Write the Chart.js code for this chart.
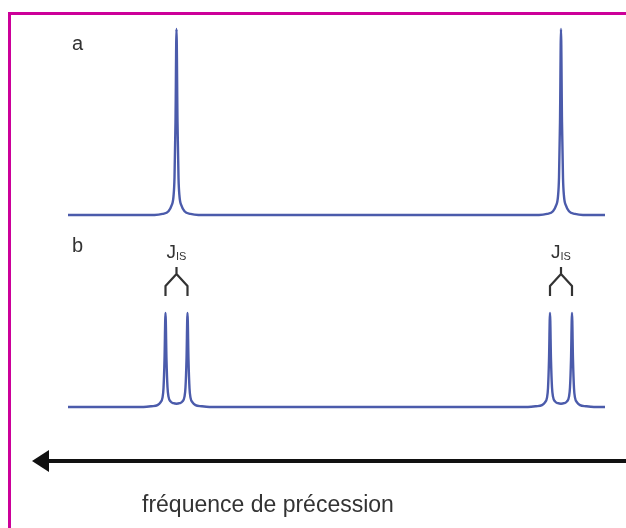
<!DOCTYPE html>
<html>
<head>
<meta charset="utf-8">
<script src="https://cdn.jsdelivr.net/npm/chart.js@4.4.0/dist/chart.umd.min.js"></script>
<style>
  html, body { margin: 0; padding: 0; background: #fff; }
  #wrap { position: relative; width: 626px; height: 528px; overflow: hidden; }
  #frame { position: absolute; left: 8px; top: 12px; width: 640px; height: 540px;
           border-left: 3px solid #cc0099; border-top: 3px solid #cc0099; }
  canvas { position: absolute; left: 0; top: 0; }
  .lbl { position: absolute; font-family: 'Liberation Sans', Arial, sans-serif; color: #333; }
</style>
</head>
<body>
<div id="wrap">
  <div id="frame"></div>
  <canvas id="specA" width="626" height="528"></canvas>
  <canvas id="specB" width="626" height="528"></canvas>
  <div class="lbl" style="left:72px; top:32px; font-size:20px;">a</div>
  <div class="lbl" style="left:72px; top:234px; font-size:20px;">b</div>
  <div class="lbl" style="left:142px; top:491px; font-size:23px;">fréquence de précession</div>
</div>
<script>
// frequency axis (arbitrary units)
const freqMin = 0;
const freqMax = 537;

// line positions
const lineCenters = [108.5, 493];
const singletHeights = [1, 1];
const doubletHeights = [0.5, 0.5];
const couplingJ = 22;

// line shape (offset, relative height)
const singletOffsets = [-22, -14, -8, -5, -3, -2, -1, 0, 1, 2, 3, 5, 8, 14, 22];
const singletShape = [0, 0.006, 0.02, 0.05, 0.1, 0.2, 0.5, 1, 0.5, 0.2, 0.1, 0.05, 0.02, 0.006, 0];

// doublet shape, offsets from the doublet centre
const doubletOffsets = [-33, -25, -19, -16, -14, -13, -12, -11, -10, -9, -8, -6, -3, 0,
                        3, 6, 8, 9, 10, 11, 12, 13, 14, 16, 19, 25, 33];
const doubletShape = [0, 0.008, 0.02, 0.05, 0.1, 0.2, 0.5, 1, 0.5, 0.21, 0.11, 0.06, 0.04, 0.035,
                      0.04, 0.06, 0.11, 0.21, 0.5, 1, 0.5, 0.2, 0.1, 0.05, 0.02, 0.008, 0];

function buildSpectrum(offsets, shape, heights) {
  const pts = [{ x: freqMin, y: 0 }];
  lineCenters.forEach((c, i) => {
    offsets.forEach((o, k) => pts.push({ x: c + o, y: shape[k] * heights[i] }));
  });
  pts.push({ x: freqMax, y: 0 });
  return pts;
}

const lineColor = '#4b5bab';

function makeChart(id, data, yMax, padding, extraPlugins) {
  return new Chart(document.getElementById(id), {
    type: 'line',
    data: {
      datasets: [{
        data: data,
        borderColor: lineColor,
        borderWidth: 2.4,
        pointRadius: 0,
        cubicInterpolationMode: 'monotone',
        clip: false
      }]
    },
    options: {
      responsive: false,
      animation: false,
      devicePixelRatio: 1,
      layout: { padding: padding },
      scales: {
        x: { type: 'linear', min: freqMin, max: freqMax, display: false },
        y: { min: 0, max: yMax, display: false }
      },
      plugins: { legend: { display: false }, tooltip: { enabled: false } }
    },
    plugins: extraPlugins || []
  });
}

// J_IS brackets and the frequency arrow
const bracketPlugin = {
  id: 'brackets',
  afterDraw(chart) {
    const ctx = chart.ctx;
    const xs = chart.scales.x;
    ctx.save();
    ctx.strokeStyle = '#333';
    ctx.lineWidth = 2.2;
    ctx.lineJoin = 'round';
    lineCenters.forEach(c => {
      const xm = xs.getPixelForValue(c);
      const xl = xs.getPixelForValue(c - couplingJ / 2);
      const xr = xs.getPixelForValue(c + couplingJ / 2);
      ctx.beginPath();
      ctx.moveTo(xm, 267);
      ctx.lineTo(xm, 274);
      ctx.lineTo(xl, 286);
      ctx.lineTo(xl, 296);
      ctx.moveTo(xm, 274);
      ctx.lineTo(xr, 286);
      ctx.lineTo(xr, 296);
      ctx.stroke();

      ctx.fillStyle = '#333';
      ctx.textBaseline = 'alphabetic';
      ctx.font = '19px "Liberation Sans", Arial, sans-serif';
      ctx.fillText('J', xm - 10, 258);
      ctx.font = '11px "Liberation Sans", Arial, sans-serif';
      ctx.fillText('IS', xm - 0.5, 260);
    });

    // arrow
    ctx.strokeStyle = '#111';
    ctx.fillStyle = '#111';
    ctx.lineWidth = 4;
    ctx.beginPath();
    ctx.moveTo(44, 461);
    ctx.lineTo(626, 461);
    ctx.stroke();
    ctx.beginPath();
    ctx.moveTo(32, 461);
    ctx.lineTo(49, 450);
    ctx.lineTo(49, 472);
    ctx.closePath();
    ctx.fill();
    ctx.restore();
  }
};

window.addEventListener('load', function() {
  makeChart('specA', buildSpectrum(singletOffsets, singletShape, singletHeights), 1,
    { left: 68, right: 21, top: 29, bottom: 313 });
  makeChart('specB', buildSpectrum(doubletOffsets, doubletShape, doubletHeights), 0.5,
    { left: 68, right: 21, top: 313, bottom: 121 }, [bracketPlugin]);
});
</script>
</body>
</html>
